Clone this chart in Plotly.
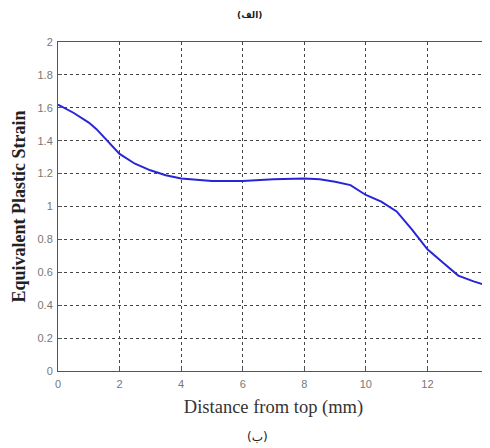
import plotly.graph_objects as go

distance_mm = [0, 0.5, 1.0, 1.25, 1.5, 2.0, 2.5, 3.0, 3.5, 4.0, 5.0, 6.0, 7.0, 8.0, 8.5,
               9.0, 9.5, 10.0, 10.5, 11.0, 11.5, 12.0, 12.5, 13.0, 13.5, 14.0]
plastic_strain = [1.62, 1.57, 1.51, 1.47, 1.42, 1.32, 1.26, 1.22, 1.19, 1.17, 1.155, 1.155,
                  1.165, 1.17, 1.165, 1.15, 1.13, 1.07, 1.03, 0.97, 0.86, 0.74, 0.66, 0.58,
                  0.545, 0.515]
x_ticks = [0, 2, 4, 6, 8, 10, 12, 14]
y_ticks = [0, 0.2, 0.4, 0.6, 0.8, 1, 1.2, 1.4, 1.6, 1.8, 2]

fig = go.Figure()
fig.add_trace(go.Scatter(x=distance_mm, y=plastic_strain, mode="lines",
                         line=dict(color="#2626d6", width=2), showlegend=False))

axis_common = dict(showline=True, linecolor="#555", linewidth=1, mirror=True,
                   showgrid=True, gridcolor="#444", griddash="dot", gridwidth=1,
                   ticks="inside", ticklen=4, tickcolor="#555", zeroline=False,
                   automargin=False, ticklabeloverflow="allow",
                   tickfont=dict(family="Liberation Sans, Arial", size=11, color="#777"))

fig.update_xaxes(range=[0, 14], tickvals=x_ticks, ticklabelstandoff=3,
                 title=dict(text="Distance from top (mm)", standoff=10,
                            font=dict(family="Liberation Serif, Times New Roman", size=18.5, color="#333")),
                 **axis_common)
fig.update_yaxes(range=[0, 2], tickvals=y_ticks, ticklabelstandoff=2,
                 title=dict(text="<b>Equivalent Plastic Strain</b>", standoff=7,
                            font=dict(family="Liberation Serif, Times New Roman", size=18, color="#222")),
                 **axis_common)

fig.add_annotation(text="<b>(الف)</b>", xref="paper", yref="paper", x=0.445, y=1.0,
                   yanchor="middle", yshift=27, showarrow=False,
                   font=dict(family="DejaVu Sans, Noto Sans", size=9, color="#222"))
fig.add_annotation(text="(ب)", xref="paper", yref="paper", x=0.462, y=0,
                   yanchor="middle", yshift=-66, showarrow=False,
                   font=dict(family="DejaVu Sans, Noto Sans", size=12, color="#222"))

fig.update_layout(width=482, height=440, margin=dict(l=50, r=1, t=34, b=77),
                  plot_bgcolor="white", paper_bgcolor="white")
fig.write_html("out.html")
